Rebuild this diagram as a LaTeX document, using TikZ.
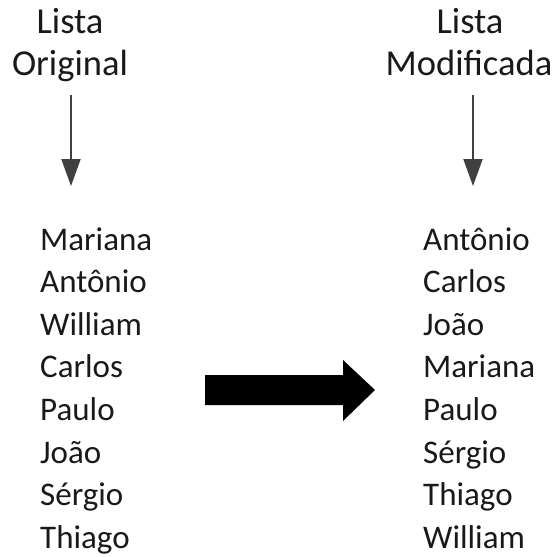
\documentclass[tikz,border=0pt]{standalone}
\usepackage{fontspec}
\setmainfont{Carlito}
\usetikzlibrary{arrows.meta}
\begin{document}
\begin{tikzpicture}[x=1pt,y=-1pt,
  txt/.style={font=\fontsize{33}{40}\selectfont, inner sep=0pt, text=black!90},
  ttl/.style={font=\fontsize{36.5}{44}\selectfont, inner sep=0pt, text=black!90},
  down/.style={draw=black!75, line width=2pt, -{Triangle[length=27pt,width=19pt]}}]
\useasboundingbox (0,0) rectangle (557,557);
% titles
\node[ttl, anchor=base] (t1a) at (70,33) {Lista};
\node[ttl, anchor=base] (t1b) at (70,75) {Original};
\node[ttl, anchor=base] (t2a) at (470,33) {Lista};
\node[ttl, anchor=base] (t2b) at (469,75) {Modificada};
% vertical arrows
\coordinate (a1s) at (71,95);
\coordinate (a1e) at (71,186);
\coordinate (a2s) at (473,95);
\coordinate (a2e) at (473,186);
\draw[down] (a1s) -- (a1e);
\draw[down] (a2s) -- (a2e);
% lists
\foreach \n [count=\i from 0] in {Mariana,Antônio,William,Carlos,Paulo,João,Sérgio,Thiago}
  \node[txt, anchor=base west] (l\i) at (40,{250+42.6*\i}) {\n};
\foreach \n [count=\i from 0] in {Antônio,Carlos,João,Mariana,Paulo,Sérgio,Thiago,William}
  \node[txt, anchor=base west] (r\i) at (423,{250+42.6*\i}) {\n};
% big arrow
\fill[black] (205,375) -- (343,375) -- (343,360) -- (375,390) -- (343,421) -- (343,405) -- (205,405) -- cycle;
\end{tikzpicture}
\end{document}
